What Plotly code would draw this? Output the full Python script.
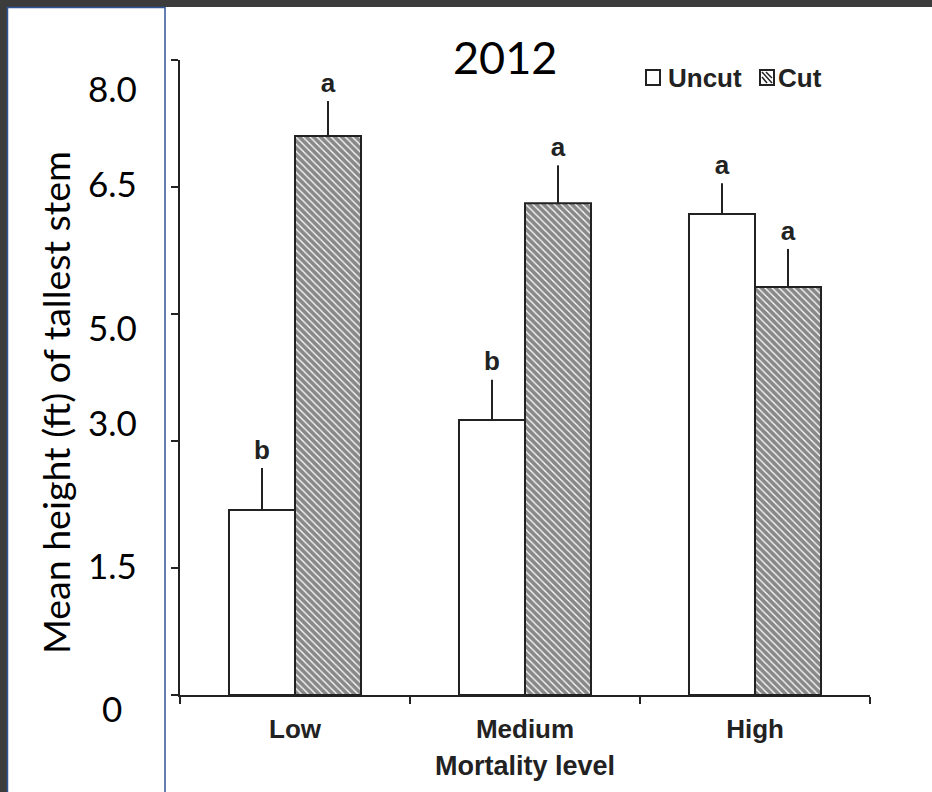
import plotly.graph_objects as go

# ---- data -------------------------------------------------------------
categories = ["Low", "Medium", "High"]
uncut_height = [2.39, 3.55, 6.21]
uncut_err = [0.54, 0.52, 0.40]
cut_height = [7.22, 6.35, 5.27]
cut_err = [0.45, 0.49, 0.49]
uncut_letters = ["b", "b", "a"]
cut_letters = ["a", "a", "a"]

# axis ticks fall every 0.5 m, shown in feet
tick_m = [0.0, 0.5, 1.0, 1.5, 2.0, 2.5]
M_TO_FT = 3.28
y_ticks_ft = [m * M_TO_FT for m in tick_m]
y_tick_labels = ["0", "1.5", "3.0", "5.0", "6.5", "8.0"]

# ---- page geometry ----------------------------------------------------
W, H = 932, 792
ML, MR, MT, MB = 180, 62, 60, 97
PW, PH = W - ML - MR, H - MT - MB


def px_x(px):
    return (px - ML) / PW


def px_y(py):
    return (H - MB - py) / PH


INK = "#222222"
BOLD = dict(family="Liberation Sans, Arial, sans-serif", size=26, color=INK, weight="bold")
CAL = dict(family="Lato, Open Sans, sans-serif", color="#000000")

fig = go.Figure()

fig.add_trace(go.Bar(
    name="Uncut", x=categories, y=uncut_height, offsetgroup="u",
    marker=dict(color="white", line=dict(color=INK, width=2)),
    error_y=dict(type="data", symmetric=False, array=uncut_err,
                 arrayminus=[0] * len(uncut_err), color=INK, thickness=2, width=0),
    showlegend=False,
))
fig.add_trace(go.Bar(
    name="Cut", x=categories, y=cut_height, offsetgroup="c",
    marker=dict(color="white", line=dict(color=INK, width=2),
                pattern=dict(shape="\\", fgcolor="#111111", bgcolor="white",
                             size=5, solidity=0.75)),
    error_y=dict(type="data", symmetric=False, array=cut_err,
                 arrayminus=[0] * len(cut_err), color=INK, thickness=2, width=0),
    showlegend=False,
))

# significance letters sit on top of each error bar
letter_marker = dict(size=3, opacity=0)
fig.add_trace(go.Scatter(
    x=categories, y=[v + e for v, e in zip(uncut_height, uncut_err)],
    text=uncut_letters, mode="markers+text", textposition="top center",
    marker=letter_marker, textfont=BOLD, offsetgroup="u",
    showlegend=False, hoverinfo="skip",
))
fig.add_trace(go.Scatter(
    x=categories, y=[v + e for v, e in zip(cut_height, cut_err)],
    text=cut_letters, mode="markers+text", textposition="top center",
    marker=letter_marker, textfont=BOLD, offsetgroup="c",
    showlegend=False, hoverinfo="skip",
))

fig.update_layout(
    width=W, height=H,
    margin=dict(l=ML, r=MR, t=MT, b=MB, pad=0),
    paper_bgcolor="white", plot_bgcolor="white",
    barmode="group", bargap=0.426, bargroupgap=0,
    scattermode="group", scattergap=0.426,
    showlegend=False,
    xaxis=dict(
        type="category", range=[-0.5, 2.5], tickson="boundaries",
        ticks="outside", ticklen=7, tickwidth=2, tickcolor=INK,
        showline=True, linecolor=INK, linewidth=2, showgrid=False,
        tickfont=BOLD, ticklabelstandoff=10,
        title=dict(text="Mortality level", font=dict(BOLD, size=27), standoff=13),
    ),
    yaxis=dict(
        range=[0, y_ticks_ft[-1]], tickmode="array", tickvals=y_ticks_ft,
        showticklabels=False, ticks="outside", ticklen=7, tickwidth=2, tickcolor=INK,
        showline=True, linecolor=INK, linewidth=2, showgrid=False, zeroline=False,
    ),
)

annotations = []
# tick labels in the side panel
label_py = [708, 565, 422, 327, 183, 88]
for lab, py in zip(y_tick_labels, label_py):
    annotations.append(dict(
        text=lab, x=px_x(112), y=px_y(py), xref="paper", yref="paper",
        xanchor="center", yanchor="middle", showarrow=False,
        font=dict(CAL, size=35),
    ))
# side-panel axis title
annotations.append(dict(
    text="Mean height (ft) of tallest stem", x=px_x(55), y=px_y(403),
    xref="paper", yref="paper", xanchor="center", yanchor="middle",
    textangle=-90, showarrow=False, font=dict(CAL, size=37.5),
))
# year heading
annotations.append(dict(
    text="2012", x=px_x(505), y=px_y(57), xref="paper", yref="paper",
    xanchor="center", yanchor="middle", showarrow=False, font=dict(CAL, size=45),
))
# key labels
annotations.append(dict(
    text="Uncut", x=px_x(666), y=px_y(78), xref="paper", yref="paper",
    xanchor="left", yanchor="middle", showarrow=False, font=dict(BOLD, size=26),
))
annotations.append(dict(
    text="Cut", x=px_x(776), y=px_y(78), xref="paper", yref="paper",
    xanchor="left", yanchor="middle", showarrow=False, font=dict(BOLD, size=26),
))
fig.update_layout(annotations=annotations)


def rect(x0, y0, x1, y1, **kw):
    return dict(type="rect", xref="paper", yref="paper",
                x0=px_x(x0), x1=px_x(x1), y0=px_y(y0), y1=px_y(y1), layer="above", **kw)


def line(x0, y0, x1, y1, **kw):
    return dict(type="line", xref="paper", yref="paper",
                x0=px_x(x0), x1=px_x(x1), y0=px_y(y0), y1=px_y(y1), layer="above", **kw)


shapes = [
    # key swatches
    rect(646, 70, 660, 85, line=dict(color=INK, width=2), fillcolor="white"),
    rect(760, 70, 774, 85, line=dict(color=INK, width=2), fillcolor="white"),
    line(762, 72, 772, 83, line=dict(color=INK, width=1.5)),
    line(766, 72, 772, 78, line=dict(color=INK, width=1.5)),
    line(762, 77, 767, 83, line=dict(color=INK, width=1.5)),
    # dark outer frame
    rect(0, 0, W, 7, line=dict(width=0), fillcolor="#3c3c3c"),
    rect(0, 0, 7, H, line=dict(width=0), fillcolor="#3c3c3c"),
    # blue outline of the side panel
    line(7.5, 7, 7.5, H, line=dict(color="#2f5597", width=1.5)),
    line(7, 7.5, 165, 7.5, line=dict(color="#2f5597", width=1.5)),
    line(165, 7, 165, H, line=dict(color="#2f5597", width=1.5)),
]
fig.update_layout(shapes=shapes)

fig.write_html("out.html")
